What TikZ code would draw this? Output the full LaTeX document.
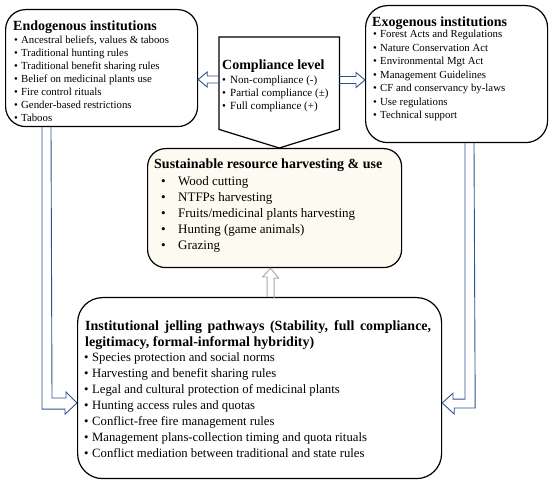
\documentclass[tikz,border=0pt]{standalone}
\usepackage{fontspec}
\setmainfont{Liberation Serif}
\usetikzlibrary{positioning,calc}

\definecolor{arrowblue}{HTML}{2F528F}
\definecolor{arrowgray}{HTML}{A6A6A6}
\definecolor{cream}{HTML}{FDFBF1}

\newcommand{\bul}[2][7pt]{\makebox[#1][l]{\textbullet}#2}

\begin{document}
\begin{tikzpicture}[x=1pt,y=-1pt,
  rbox/.style={draw, line width=1.2pt, fill=white, rounded corners=20pt, inner sep=0pt, anchor=north west},
  head/.style={inner sep=0pt, font=\fontsize{14}{16}\selectfont\bfseries, align=left},
  items/.style={inner sep=0pt, font=\fontsize{10.8}{13}\selectfont, align=left},
  bigitems/.style={inner sep=0pt, font=\fontsize{13}{16}\selectfont, align=left},
  bluearrow/.style={draw=arrowblue, line width=0.9pt, line join=miter},
  grayarrow/.style={draw=arrowgray, line width=0.9pt, line join=miter}
]
\useasboundingbox (0,0) rectangle (550,484);

% boxes
\node[rbox, minimum width=192pt, minimum height=117pt] (endo) at (5,9) {};
\node[rbox, minimum width=182pt, minimum height=137pt, rounded corners=22pt] (exo) at (365,5) {};
\node[rbox, minimum width=254pt, minimum height=119pt, fill=cream, rounded corners=18pt] (sust) at (147,148) {};
\node[rbox, minimum width=364pt, minimum height=181pt, rounded corners=25pt] (bot) at (77,297) {};

% compliance level (pentagon)
\node[inner sep=0pt, minimum width=120pt, minimum height=92pt, anchor=north west] (comp) at (219,37) {};
\draw[line width=1.2pt, fill=white] (comp.north west) -- (comp.north east) -- (comp.south east)
  -- (comp.south |- sust.north) -- (comp.south west) -- cycle;

% texts
\node[head, below right=11.5pt and 8pt of endo.north west] (endotitle) {Endogenous institutions};
\node[items, below right=27pt and 9pt of endo.north west] (endolist) {%
  \bul{Ancestral beliefs, values \& taboos}\\
  \bul{Traditional hunting rules}\\
  \bul{Traditional benefit sharing rules}\\
  \bul{Belief on medicinal plants use}\\
  \bul{Fire control rituals}\\
  \bul{Gender-based restrictions}\\
  \bul{Taboos}};

\node[head, below right=11.5pt and 7pt of exo.north west] (exotitle) {Exogenous institutions};
\node[items, font=\fontsize{10.8}{13.5}\selectfont, below right=25pt and 8pt of exo.north west] (exolist) {%
  \bul{Forest Acts and Regulations}\\
  \bul{Nature Conservation Act}\\
  \bul{Environmental Mgt Act}\\
  \bul{Management Guidelines}\\
  \bul{CF and conservancy by-laws}\\
  \bul{Use regulations}\\
  \bul{Technical support}};

\node[head, below right=22.5pt and 3pt of comp.north west] (comptitle) {Compliance level};
\node[items, font=\fontsize{11}{13}\selectfont, below right=39pt and 3pt of comp.north west] (complist) {%
  \bul[8pt]{Non-compliance (-)}\\
  \bul[8pt]{Partial compliance (±)}\\
  \bul[8pt]{Full compliance (+)}};

\node[head, below right=10.5pt and 7pt of sust.north west] (susttitle) {Sustainable resource harvesting \& use};
\node[bigitems, below right=28.3pt and 14pt of sust.north west] (sustlist) {%
  \bul[17pt]{Wood cutting}\\
  \bul[17pt]{NTFPs harvesting}\\
  \bul[17pt]{Fruits/medicinal plants harvesting}\\
  \bul[17pt]{Hunting (game animals)}\\
  \bul[17pt]{Grazing}};

\node[head, text width=346pt, align=justify, below right=23.5pt and 8pt of bot.north west] (bottitle)
  {Institutional jelling pathways (Stability, full compliance,\linebreak legitimacy, formal-informal hybridity)};
\node[bigitems, font=\fontsize{12.7}{16}\selectfont, below right=55.3pt and 7pt of bot.north west] (botlist) {%
  \bul[8pt]{Species protection and social norms}\\
  \bul[8pt]{Harvesting and benefit sharing rules}\\
  \bul[8pt]{Legal and cultural protection of medicinal plants}\\
  \bul[8pt]{Hunting access rules and quotas}\\
  \bul[8pt]{Conflict-free fire management rules}\\
  \bul[8pt]{Management plans-collection timing and quota rituals}\\
  \bul[8pt]{Conflict mediation between traditional and state rules}};

% block arrows
\coordinate (lt) at ($(endo.north east)+(0,70.5)$);
\coordinate (rt) at ($(exo.north west)+(0,75)$);
\draw[bluearrow] ($(lt)+(22,-3.5)$) -- ++(-13,0) -- ++(0,-4) -- (lt) -- ++(9,7.5) -- ++(0,-4) -- ++(13,0);
\draw[bluearrow] ($(rt)+(-26,-3.5)$) -- ++(17,0) -- ++(0,-4) -- (rt) -- ++(-9,7.5) -- ++(0,-4) -- ++(-17,0);

\coordinate (ls) at ($(endo.south west)+(37,0)$);
\coordinate (bt) at ($(bot.north west)+(0,106)$);
\draw[bluearrow] (ls) -- ++(0,282) -- ++(23,0) -- ++(0,5) -- (bt) -- ++(-11,-11) -- ++(0,6) -- ++(-14,0)
  -- ($(ls)+(9,0)$);

\coordinate (rs) at ($(exo.south west)+(100,0)$);
\coordinate (rbt) at ($(bot.north east)+(0,106)$);
\draw[bluearrow] (rs) -- ++(0,256) -- ++(-12,0) -- ++(0,-6) -- (rbt) -- ++(12,11) -- ++(0,-6) -- ++(21,0)
  -- ($(rs)+(9,0)$);

\coordinate (gt) at ($(sust.south)+(-4,0)$);
\draw[grayarrow] (gt |- bot.north) ++(-3.5,0) -- ++(0,-20) -- ++(-4.5,0) -- (gt) -- ++(8,10) -- ++(-4.5,0) -- ++(0,20);

\end{tikzpicture}
\end{document}
